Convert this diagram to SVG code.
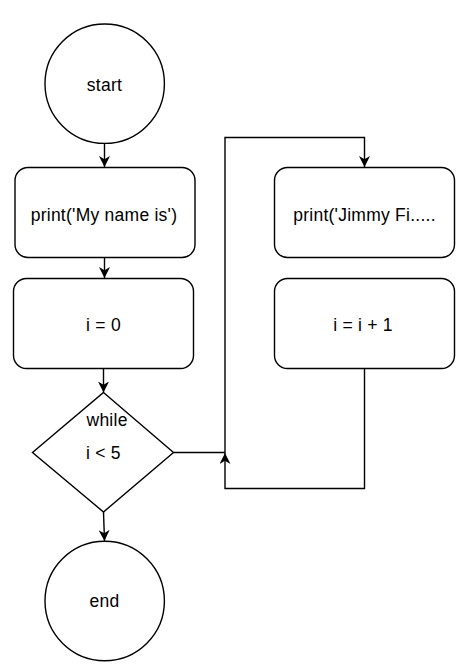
<svg xmlns="http://www.w3.org/2000/svg" width="474" height="666" viewBox="0 0 474 666">
<style>
.shape{fill:#ffffff;stroke:#000000;stroke-width:1.4}
.edge{fill:none;stroke:#000000;stroke-width:1.4}
.lbl{font-family:"Liberation Sans",Arial,sans-serif;font-size:17.5px;letter-spacing:0.25px;fill:#000000}
.c{text-anchor:middle}
</style>
<defs>
<marker id="arr" viewBox="0 0 10 10" refX="10" refY="5" markerWidth="11" markerHeight="11" markerUnits="userSpaceOnUse" orient="auto">
<path d="M0,0 L10,5 L0,10 L3,5 Z" fill="#000000"/>
</marker>
</defs>
<rect width="474" height="666" fill="#ffffff"/>
<g id="connectors">
<path class="edge" d="M104.5,143.5 L104.5,167" marker-end="url(#arr)"/>
<path class="edge" d="M104.5,257.5 L104.5,278" marker-end="url(#arr)"/>
<path class="edge" d="M103.5,368.5 L103.5,392.5" marker-end="url(#arr)"/>
<path class="edge" d="M103.5,512 L104.5,541" marker-end="url(#arr)"/>
<path class="edge" d="M173.5,452.5 L225,452.5 L225,137.5 L364.5,137.5 L364.5,167" marker-end="url(#arr)"/>
<path class="edge" d="M364.5,368.5 L364.5,488.5 L225,488.5 L225,453" marker-end="url(#arr)"/>
<path d="M107.5,417 L112,421 L107.5,425 L108.8,421 Z" fill="#000000"/>
</g>
<g id="start">
<circle class="shape" cx="104.7" cy="83.7" r="59.7"/>
<text class="lbl c" x="104.5" y="91">start</text>
</g>
<g id="print_name">
<rect class="shape" x="15" y="167.5" width="180" height="90" rx="13" ry="13"/>
<text class="lbl c" x="104" y="220.5">print('My name is')</text>
</g>
<g id="init_i">
<rect class="shape" x="13.5" y="278.5" width="180" height="90" rx="13" ry="13"/>
<text class="lbl c" x="103.5" y="330.5">i = 0</text>
</g>
<g id="while">
<polygon class="shape" points="103.5,392.5 173.5,452.5 103.5,512 32.5,452.5"/>
<text class="lbl" x="86.5" y="425.5">while</text>
<text class="lbl" x="86" y="459">i &lt; 5</text>
</g>
<g id="print_jimmy">
<rect class="shape" x="274.5" y="167.5" width="180" height="90" rx="13" ry="13"/>
<text class="lbl c" x="364.5" y="220.5">print('Jimmy Fi.....</text>
</g>
<g id="increment">
<rect class="shape" x="274.5" y="278.5" width="180" height="90" rx="13" ry="13"/>
<text class="lbl c" x="363" y="330.5">i = i + 1</text>
</g>
<g id="end">
<circle class="shape" cx="104.7" cy="601" r="59.7"/>
<text class="lbl c" x="104.5" y="607">end</text>
</g>
</svg>
